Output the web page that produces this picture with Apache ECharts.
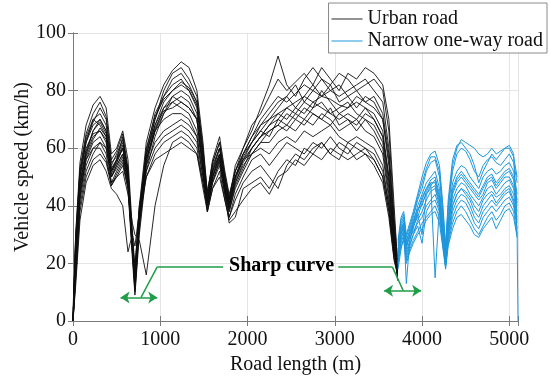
<!DOCTYPE html>
<html>
<head>
<meta charset="utf-8">
<script src="https://cdn.jsdelivr.net/npm/echarts@6/dist/echarts.min.js"></script>
<style>
  html, body { margin: 0; padding: 0; background: #fff; }
  #chart { width: 550px; height: 380px; }
</style>
</head>
<body>
<div id="chart"></div>
<script>
// distance grid (m) for the urban section
const urbanDist = [
  0, 30, 80, 150, 230, 310, 380, 440, 500, 570,
  630, 680, 710, 760, 840, 940, 1040, 1140, 1240, 1330,
  1420, 1490, 1540, 1600, 1680, 1740, 1790, 1860, 1950, 2050,
  2150, 2250, 2350, 2450, 2550, 2650, 2750, 2850, 2950, 3050,
  3150, 3250, 3350, 3450, 3550, 3620, 3680, 3720
];

// speed (km/h) of each urban run
const urbanRuns = [
  [0, 30, 55, 68, 75, 78, 74, 58, 60, 66, 56, 32, 18, 40, 62, 74, 82, 87, 90, 88, 80, 62, 44, 55, 62, 50, 42, 54, 60, 68, 72, 78, 84, 80, 83, 86, 82, 88, 84, 80, 86, 84, 88, 86, 82, 70, 40, 20],
  [0, 25, 50, 62, 70, 72, 68, 54, 58, 63, 52, 28, 14, 36, 58, 70, 78, 84, 86, 82, 76, 58, 42, 52, 58, 46, 40, 50, 58, 64, 70, 74, 78, 76, 79, 82, 80, 84, 80, 78, 80, 82, 84, 80, 76, 60, 34, 18],
  [2, 20, 46, 58, 66, 70, 66, 52, 56, 61, 50, 26, 12, 34, 55, 68, 76, 80, 82, 80, 74, 56, 40, 50, 57, 47, 41, 49, 56, 62, 66, 70, 72, 74, 76, 78, 76, 78, 77, 75, 74, 78, 76, 74, 70, 54, 30, 16],
  [0, 28, 52, 64, 70, 68, 64, 50, 54, 58, 48, 24, 10, 32, 54, 66, 74, 78, 80, 78, 72, 55, 41, 52, 60, 48, 40, 48, 55, 60, 64, 68, 72, 70, 74, 72, 76, 74, 72, 70, 72, 70, 74, 72, 66, 50, 28, 14],
  [0, 22, 48, 60, 65, 66, 62, 48, 52, 56, 46, 22, 9, 30, 52, 64, 72, 76, 78, 76, 70, 52, 38, 48, 56, 46, 38, 46, 52, 58, 62, 66, 68, 72, 70, 74, 72, 70, 74, 68, 70, 66, 70, 68, 62, 46, 26, 15],
  [4, 26, 50, 62, 68, 70, 66, 52, 55, 60, 50, 25, 14, 38, 58, 68, 74, 76, 74, 72, 66, 54, 44, 56, 64, 52, 44, 52, 58, 62, 66, 64, 70, 74, 72, 70, 74, 76, 72, 74, 76, 72, 70, 66, 60, 44, 26, 17],
  [0, 18, 44, 56, 62, 64, 60, 50, 54, 58, 49, 27, 16, 36, 56, 66, 70, 72, 72, 70, 64, 50, 40, 50, 58, 47, 39, 48, 54, 58, 62, 62, 66, 68, 66, 70, 68, 72, 70, 66, 68, 70, 66, 64, 58, 42, 24, 16],
  [0, 15, 40, 52, 58, 62, 58, 47, 51, 55, 47, 28, 18, 40, 52, 60, 64, 66, 68, 66, 62, 50, 42, 54, 60, 50, 42, 50, 56, 58, 60, 58, 62, 64, 62, 66, 64, 66, 68, 64, 62, 64, 62, 60, 54, 40, 24, 18],
  [0, 12, 35, 48, 54, 56, 52, 46, 44, 40, 24, 30, 26, 38, 50, 56, 58, 60, 62, 60, 58, 48, 40, 50, 56, 45, 36, 42, 48, 52, 54, 50, 46, 54, 58, 56, 60, 62, 58, 56, 62, 60, 58, 56, 50, 38, 22, 17],
  [0, 20, 42, 54, 60, 60, 56, 48, 50, 52, 44, 34, 30, 28, 16, 40, 54, 62, 64, 62, 58, 46, 38, 46, 52, 42, 36, 44, 50, 56, 58, 54, 58, 62, 60, 58, 62, 60, 64, 60, 58, 62, 60, 58, 52, 40, 24, 19],
  [0, 24, 48, 58, 64, 66, 63, 51, 55, 60, 50, 26, 13, 35, 57, 70, 80, 86, 88, 84, 78, 60, 43, 52, 58, 48, 42, 52, 60, 66, 74, 82, 92, 82, 78, 84, 88, 84, 82, 86, 84, 80, 82, 84, 80, 66, 36, 21],
  [0, 27, 51, 63, 69, 74, 70, 55, 57, 62, 52, 27, 15, 37, 59, 72, 78, 82, 84, 80, 75, 57, 41, 51, 57, 45, 39, 50, 57, 62, 68, 72, 76, 78, 82, 76, 80, 78, 82, 76, 78, 74, 78, 76, 70, 56, 32, 19],
  [0, 16, 43, 57, 63, 67, 64, 53, 56, 64, 51, 25, 11, 33, 56, 67, 73, 74, 76, 74, 70, 53, 39, 49, 55, 44, 38, 47, 53, 60, 64, 68, 70, 68, 72, 76, 74, 80, 76, 72, 74, 76, 74, 70, 64, 48, 28, 17],
  [0, 19, 45, 56, 60, 62, 60, 50, 53, 57, 48, 24, 12, 34, 54, 62, 66, 68, 70, 68, 64, 52, 40, 48, 54, 44, 34, 36, 46, 48, 50, 46, 52, 56, 54, 60, 58, 56, 60, 58, 56, 58, 60, 56, 50, 38, 22, 16],
  [0, 29, 53, 65, 72, 76, 71, 56, 59, 65, 53, 29, 17, 39, 60, 71, 77, 80, 83, 81, 76, 59, 45, 55, 62, 51, 43, 52, 58, 64, 68, 70, 74, 78, 74, 78, 82, 78, 80, 82, 78, 80, 76, 78, 72, 58, 32, 20],
  [0, 21, 47, 59, 66, 69, 65, 52, 56, 60, 50, 26, 14, 36, 56, 66, 72, 78, 76, 74, 70, 54, 42, 53, 60, 49, 41, 50, 56, 60, 64, 66, 68, 66, 70, 68, 72, 70, 68, 72, 70, 68, 72, 70, 64, 50, 28, 18],
  [0, 14, 38, 50, 56, 58, 55, 47, 50, 54, 46, 25, 15, 35, 50, 58, 62, 64, 66, 64, 60, 48, 38, 46, 50, 42, 35, 38, 42, 46, 48, 44, 50, 52, 56, 54, 58, 62, 58, 62, 60, 56, 58, 54, 48, 36, 21, 16]
];

// distance grid (m) for the narrow one-way section
const narrowDist = [
  3725, 3760, 3790, 3820, 3860, 3900, 3950, 4000, 4050, 4100,
  4150, 4200, 4240, 4270, 4300, 4350, 4400, 4450, 4500, 4550,
  4600, 4650, 4700, 4750, 4800, 4850, 4900, 4950, 5000, 5050,
  5090, 5100
];

const narrowRuns = [
  [28, 36, 38, 30, 34, 38, 44, 50, 55, 58, 59, 54, 40, 26, 40, 54, 60, 63, 62, 61, 60, 58, 57, 58, 60, 58, 59, 60, 61, 58, 30, 0],
  [24, 34, 36, 27, 32, 36, 42, 46, 52, 55, 56, 50, 36, 24, 38, 52, 58, 60, 59, 56, 52, 50, 54, 56, 57, 55, 54, 56, 58, 55, 48, null],
  [22, 32, 34, 25, 30, 34, 40, 44, 48, 50, 52, 46, 34, 22, 36, 48, 52, 54, 53, 50, 48, 46, 50, 52, 53, 51, 52, 54, 55, 52, 44, null],
  [20, 30, 33, 13, 28, 32, 38, 42, 46, 49, 50, 44, 32, 21, 34, 46, 50, 52, 50, 48, 46, 44, 47, 50, 51, 48, 50, 52, 53, 50, 42, null],
  [26, 33, 35, 28, 31, 35, 39, 40, 45, 48, 48, 42, 30, 20, 32, 44, 48, 50, 48, 46, 44, 42, 44, 48, 49, 46, 48, 50, 50, 47, 40, null],
  [21, 28, 32, 24, 28, 33, 37, 30, 44, 46, 47, 41, 31, 22, 33, 42, 46, 48, 47, 44, 42, 40, 43, 46, 47, 44, 46, 48, 49, 46, 38, null],
  [23, 31, 34, 26, 30, 34, 38, 43, 46, 48, 15, 40, 30, 21, 31, 40, 44, 46, 45, 43, 40, 38, 42, 44, 45, 43, 44, 46, 47, 44, 36, null],
  [19, 27, 30, 22, 26, 30, 35, 38, 42, 45, 46, 40, 29, 20, 30, 40, 44, 46, 44, 42, 38, 36, 40, 42, 44, 41, 43, 45, 46, 42, 35, null],
  [25, 30, 33, 27, 29, 31, 34, 36, 40, 42, 44, 39, 28, 19, 29, 38, 42, 44, 43, 40, 36, 34, 38, 40, 42, 40, 42, 44, 45, 41, 34, null],
  [20, 29, 31, 23, 27, 30, 33, 27, 38, 41, 42, 38, 27, 20, 28, 36, 40, 42, 41, 38, 34, 32, 36, 38, 40, 38, 40, 42, 43, 40, 32, null],
  [18, 25, 29, 21, 25, 28, 31, 34, 36, 38, 40, 36, 26, 19, 27, 34, 38, 40, 38, 35, 32, 30, 33, 36, 38, 35, 37, 40, 41, 38, 30, null],
  [27, 35, 37, 29, 33, 37, 43, 48, 53, 57, 57, 52, 38, 25, 42, 56, 61, 62, 60, 58, 54, 48, 52, 55, 58, 56, 58, 60, 60, 57, 50, null],
  [22, 26, 28, 20, 24, 27, 30, 32, 35, 37, 38, 34, 25, 18, 26, 32, 36, 37, 35, 33, 30, 29, 32, 34, 36, 32, 35, 38, 39, 36, 29, null],
  [24, 32, 34, 26, 30, 33, 36, 41, 44, 47, 49, 43, 31, 22, 35, 45, 49, 51, 49, 47, 45, 43, 46, 49, 50, 47, 49, 51, 52, 49, 41, null]
];

const seriesNames = ['Urban road', 'Narrow one-way road'];

const serif = "'Liberation Serif', 'DejaVu Serif', serif";
const green = '#1f9d48';
const urbanColor = 'rgba(15, 15, 15, 0.9)';
const narrowColor = '#1e96dc';
const axisColor = '#7a7a7a';
const gridColor = '#e4e4e4';

const chart = echarts.init(document.getElementById('chart'), null, { renderer: 'canvas' });

function runSeries(name, dist, runs, color) {
  return runs.map(run => ({
    type: 'line',
    name,
    data: dist.map((d, i) => [d, run[i]]),
    symbol: 'none',
    silent: true,
    connectNulls: false,
    lineStyle: { color, width: 1 },
    itemStyle: { color },
    z: 2,
  }));
}

function boxAxis(position, max, interval) {
  return {
    type: 'value',
    position,
    min: 0,
    max,
    interval,
    axisLine: { show: true, lineStyle: { color: axisColor } },
    axisTick: { show: true, inside: true, length: 5, lineStyle: { color: axisColor } },
    axisLabel: { show: false },
    splitLine: { show: false },
  };
}

chart.setOption({
  animation: false,
  grid: { left: 73, right: 32, top: 33, bottom: 59, outerBoundsMode: 'none' },
  legend: {
    data: seriesNames,
    orient: 'vertical',
    right: 3,
    top: 3,
    icon: 'rect',
    itemWidth: 31,
    itemHeight: 1,
    itemGap: 2,
    padding: [6, 4, 2, 3],
    backgroundColor: '#fff',
    borderColor: '#8a8a8a',
    borderWidth: 1,
    borderRadius: 0,
    selectedMode: false,
    textStyle: { fontFamily: serif, fontSize: 20, color: '#111' },
    z: 10,
  },
  xAxis: [
    {
      type: 'value',
      min: 0,
      max: 5100,
      interval: 1000,
      name: 'Road length (m)',
      nameLocation: 'middle',
      nameGap: 32,
      nameTextStyle: { fontFamily: serif, fontSize: 20, color: '#111' },
      axisLine: { show: true, lineStyle: { color: axisColor } },
      axisTick: { show: true, inside: true, length: 5, lineStyle: { color: axisColor } },
      axisLabel: {
        fontFamily: serif,
        fontSize: 20,
        color: '#111',
        margin: 9,
        formatter: v => (v % 1000 === 0 ? String(v) : ''),
      },
      splitLine: { show: true, lineStyle: { color: gridColor, width: 1 } },
    },
    boxAxis('top', 5100, 1000),
  ],
  yAxis: [
    {
      type: 'value',
      min: 0,
      max: 100,
      interval: 20,
      name: 'Vehicle speed (km/h)',
      nameLocation: 'middle',
      nameGap: 40,
      nameMoveOverlap: false,
      nameTextStyle: { fontFamily: serif, fontSize: 20, color: '#111', padding: [0, 0, 0, 20] },
      axisLine: { show: true, lineStyle: { color: axisColor } },
      axisTick: { show: true, inside: true, length: 5, lineStyle: { color: axisColor } },
      axisLabel: { fontFamily: serif, fontSize: 20, color: '#111', margin: 7 },
      splitLine: { show: true, lineStyle: { color: gridColor, width: 1 } },
    },
    boxAxis('right', 100, 20),
  ],
  series: [
    ...runSeries(seriesNames[0], urbanDist, urbanRuns, urbanColor),
    ...runSeries(seriesNames[1], narrowDist, narrowRuns, narrowColor),
    {
      // "Sharp curve" callout: leader lines
      type: 'line',
      name: 'callout',
      data: [[0, null]],
      symbol: 'none',
      silent: true,
      z: 5,
      markLine: {
        silent: true,
        animation: false,
        symbol: 'none',
        label: { show: false },
        lineStyle: { color: green, width: 1.5, type: 'solid' },
        emphasis: { disabled: true },
        data: [
          [{ coord: [1720, 18.8] }, { coord: [965, 18.8] }],
          [{ coord: [965, 18.8] }, { coord: [780, 8.2] }],
          [{ coord: [3040, 18.8] }, { coord: [3660, 18.8] }],
          [{ coord: [3660, 18.8] }, { coord: [3785, 10.5] }],
        ],
      },
    },
    {
      // "Sharp curve" callout: double arrows
      type: 'line',
      name: 'arrows',
      data: [[0, null]],
      symbol: 'none',
      silent: true,
      z: 5,
      markLine: {
        silent: true,
        animation: false,
        symbol: ['arrow', 'arrow'],
        symbolSize: [9, 9],
        label: { show: false },
        lineStyle: { color: green, width: 1.5, type: 'solid' },
        itemStyle: { color: green },
        emphasis: { disabled: true },
        data: [
          [{ coord: [545, 8.2] }, { coord: [965, 8.2] }],
          [{ coord: [3565, 10.5] }, { coord: [3990, 10.5] }],
        ],
      },
    },
  ],
});

// callout text, placed in data coordinates
const labelPos = chart.convertToPixel({ gridIndex: 0 }, [2390, 19.3]);
chart.setOption({
  graphic: [
    {
      type: 'text',
      x: labelPos[0],
      y: labelPos[1],
      z: 20,
      silent: true,
      style: {
        text: 'Sharp curve',
        fontFamily: serif,
        fontWeight: 'bold',
        fontSize: 20,
        fill: '#000',
        align: 'center',
        verticalAlign: 'middle',
      },
    },
  ],
});
</script>
</body>
</html>
